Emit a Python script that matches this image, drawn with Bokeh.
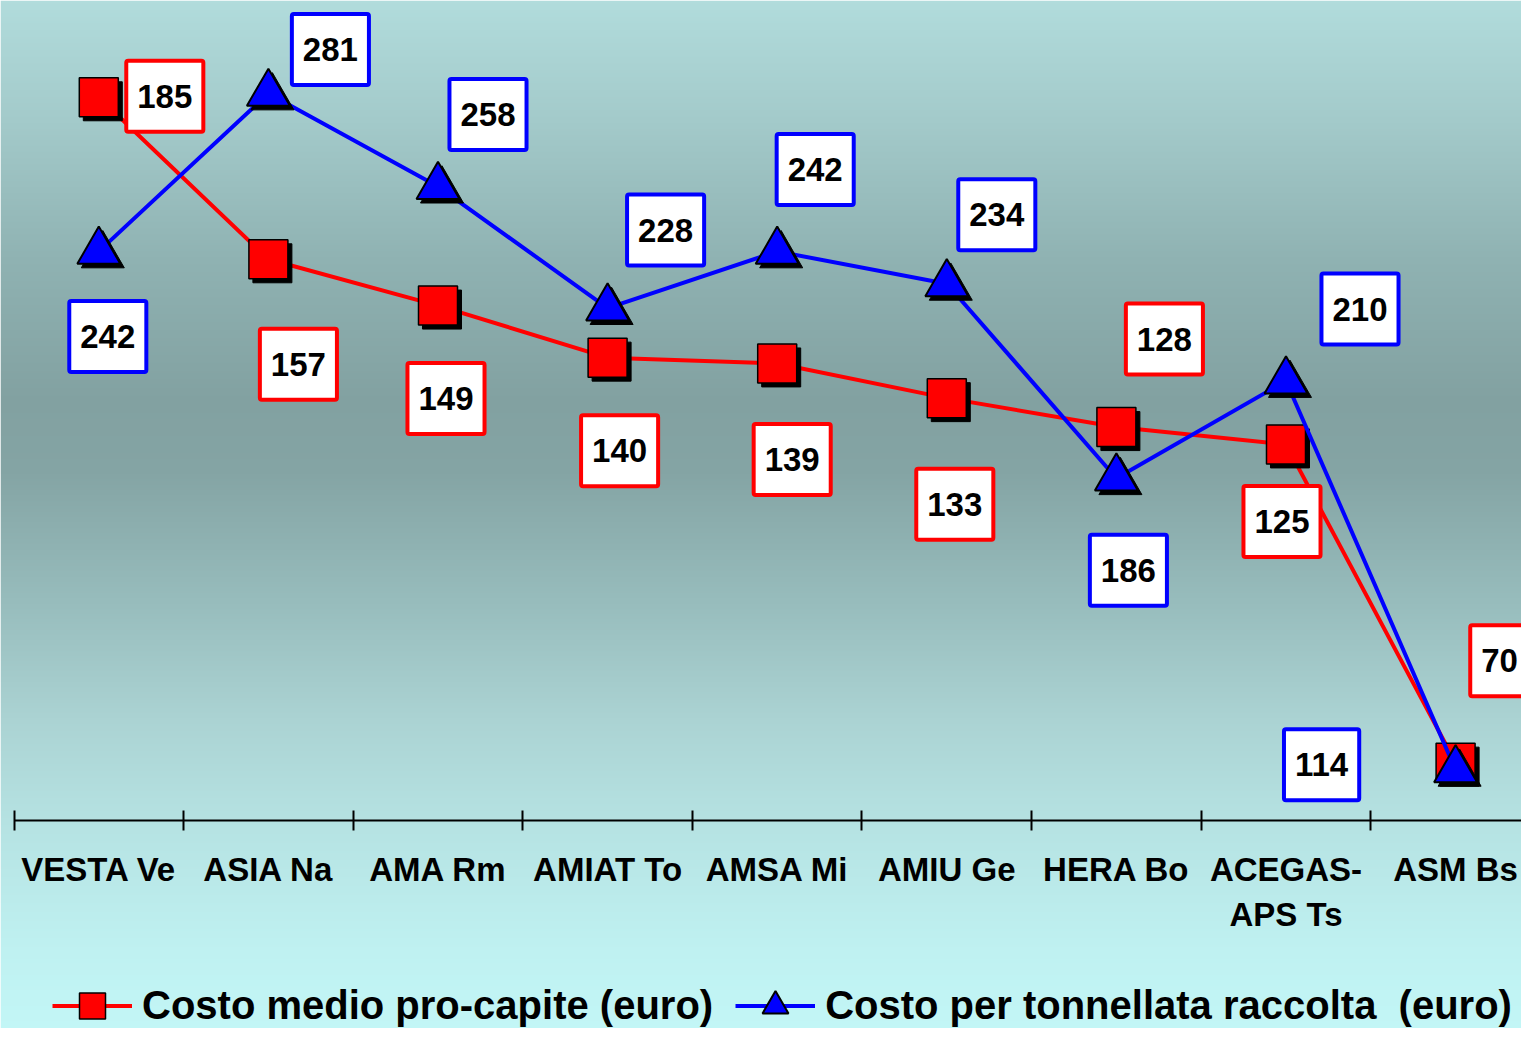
import numpy as np
from bokeh.plotting import figure
from bokeh.models import (Range1d, LinearAxis, FixedTicker, ColumnDataSource,
                          Legend, LegendItem)
from bokeh.transform import dodge
from bokeh.core.properties import value
from bokeh.embed import file_html
from bokeh.resources import INLINE

# ---------------- data ----------------
categories = ["VESTA Ve", "ASIA Na", "AMA Rm", "AMIAT To", "AMSA Mi",
              "AMIU Ge", "HERA Bo", "ACEGAS-\nAPS Ts", "ASM Bs"]
costo_pro_capite = [185, 157, 149, 140, 139, 133, 128, 125, 70]
costo_tonnellata = [242, 281, 258, 228, 242, 234, 186, 210, 114]
series_names = ["Costo medio pro-capite (euro)",
                "Costo per tonnellata raccolta  (euro)"]

# ---------------- layout (label box offsets in px: right, down) ----------------
red_label_dx = [66, 30, 8, 12, 15, 8, 48, -4, 44]
red_label_dy = [-1, 105, 93, 93, 96, 106, -88, 77, -102]
blue_label_dx = [9, 62, 50, 58, 38, 50, 12, 74, -134]
blue_label_dy = [85, -44, -72, -78, -82, -69, 92, -72, -5]

W, H = 1521, 1028
FONT_NAME = "Liberation Sans"
FONT = value(FONT_NAME)
RED, BLUE = "#ff0000", "#0000ff"
STEP = 169.6      # px per category

n = len(categories)
xpos = [i + 0.5 for i in range(n)]

x_range = Range1d(-0.0796, 8.8886)
y_range = Range1d(24.049, 201.728)     # left (pro-capite) scale 60..200
blue_range = Range1d(50.123, 303.951)  # right (tonnellata) scale 100..300

p = figure(width=W, height=H, output_backend="svg", toolbar_location=None,
           x_range=x_range, y_range=y_range, x_axis_type=None, y_axis_type=None,
           min_border=0, min_border_left=0, min_border_right=0,
           min_border_top=0, min_border_bottom=0)
p.extra_y_ranges = {"blue": blue_range}
p.outline_line_color = None
p.grid.visible = False
p.border_fill_color = "#c3f7f7"

# ---------------- background gradient ----------------
bg_stops_y = [0, 120, 260, 400, 470, 600, 720, 820, 950, 1044]
bg_stops = ["#b1dcdc", "#a3caca", "#8fb2b2", "#82a1a1", "#84a4a4",
            "#97bcbc", "#abd3d3", "#b5e2e2", "#bff1f1", "#c3f7f7"]
rgb = np.array([[int(c[i:i + 2], 16) for i in (1, 3, 5)] for c in bg_stops], dtype=float)
img = np.empty((H, 2), dtype=np.uint32)
view = img.view(dtype=np.uint8).reshape((H, 2, 4))
pix_y = H - np.arange(H) - 0.5   # row 0 is bottom
for k in range(3):
    view[:, :, k] = np.interp(pix_y, bg_stops_y, rgb[:, k]).round().astype(np.uint8)[:, None]
view[:, :, 3] = 255
p.image_rgba(image=[img], x=x_range.start, y=y_range.start,
             dw=x_range.end - x_range.start, dh=y_range.end - y_range.start)

# ---------------- axes ----------------
tick_axis = LinearAxis(ticker=FixedTicker(ticks=list(range(n + 1))),
                       fixed_location=60, bounds=(0, n),
                       axis_line_color="black", axis_line_width=2,
                       major_tick_line_color="black", major_tick_line_width=2,
                       major_tick_in=10, major_tick_out=10,
                       minor_tick_line_color=None,
                       major_label_text_color=None)
p.add_layout(tick_axis, "below")

label_axis = LinearAxis(ticker=FixedTicker(ticks=xpos),
                        fixed_location=60,
                        major_label_overrides={xv: c for xv, c in zip(xpos, categories)},
                        axis_line_color=None, major_tick_line_color=None,
                        minor_tick_line_color=None, major_tick_in=0, major_tick_out=0,
                        major_label_standoff=31,
                        major_label_text_font=FONT_NAME, major_label_text_font_size="33px",
                        major_label_text_font_style="bold",
                        major_label_text_color="black",
                        major_label_text_line_height=1.2)
p.add_layout(label_axis, "below")

# ---------------- series ----------------
src = ColumnDataSource(dict(
    x=xpos, cat=categories,
    pro=costo_pro_capite, ton=costo_tonnellata,
    pro_lbl=[str(v) for v in costo_pro_capite],
    ton_lbl=[str(v) for v in costo_tonnellata],
    rdx=red_label_dx, rdy=red_label_dy, bdx=blue_label_dx, bdy=blue_label_dy,
))

sx = 4 / STEP
red_line = p.line("x", "pro", source=src, line_color=RED, line_width=4)
p.scatter(x=dodge("x", sx), y=dodge("pro", -4 / 5.786), source=src,
          marker="square", size=39, fill_color="black", line_color="black")
red_pts = p.scatter("x", "pro", source=src, marker="square", size=39,
                    fill_color=RED, line_color="black", line_width=1.5)

blue_line = p.line("x", "ton", source=src, y_range_name="blue",
                   line_color=BLUE, line_width=4)
p.scatter(x=dodge("x", sx), y=dodge("ton", -4 / 4.05), source=src, y_range_name="blue",
          marker="triangle", size=43, fill_color="black", line_color="black")
blue_pts = p.scatter("x", "ton", source=src, y_range_name="blue", marker="triangle",
                     size=43, fill_color=BLUE, line_color="black", line_width=2)

# ---------------- value labels ----------------
# padding given as (left, right, top, bottom)
common = dict(text_align="center", text_baseline="middle", text_font=FONT,
              text_font_size="33px", text_font_style="bold", text_color="black",
              background_fill_color="white", border_line_width=4,
              padding=(11, 11, 24, 24), border_radius=2)
p.text(x="x", y="pro", text="pro_lbl", source=src, x_offset="rdx", y_offset="rdy",
       border_line_color=RED, **common)
p.text(x="x", y="ton", text="ton_lbl", source=src, y_range_name="blue",
       x_offset="bdx", y_offset="bdy", border_line_color=BLUE, **common)

# ---------------- legend ----------------
legend = Legend(items=[LegendItem(label=series_names[0], renderers=[red_line, red_pts]),
                       LegendItem(label=series_names[1], renderers=[blue_line, blue_pts])],
                orientation="horizontal", location=(52, -9.5),
                glyph_width=80, glyph_height=65, label_standoff=10, spacing=22,
                padding=0, margin=0, background_fill_alpha=0, border_line_color=None,
                label_text_font=FONT_NAME, label_text_font_size="40px",
                label_text_font_style="bold", label_text_color="black")
p.add_layout(legend)

open("out.html", "w").write(file_html(p, INLINE))
